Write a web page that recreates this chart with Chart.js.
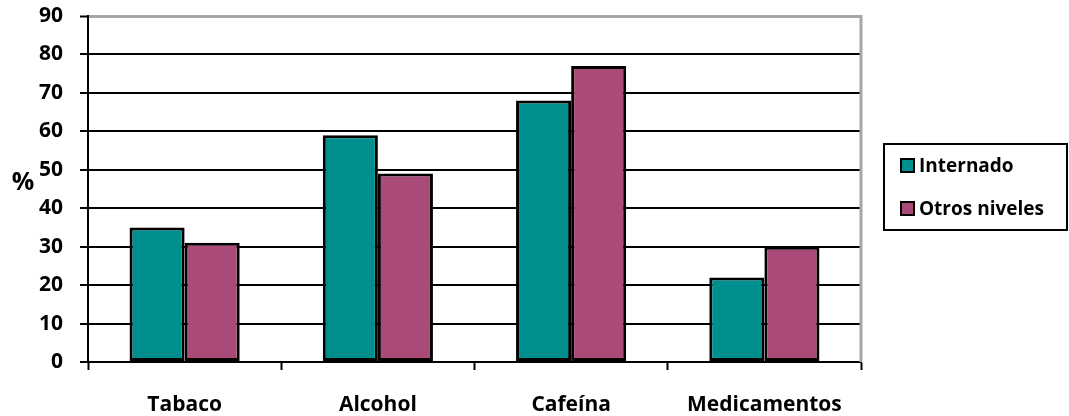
<!DOCTYPE html>
<html lang="es">
<head>
    <meta charset="UTF-8">
    <title>Consumo por nivel</title>
    <script src="https://cdn.jsdelivr.net/npm/chart.js"></script>
    <style>
        body { margin: 0; background: #ffffff; }
        #wrap { width: 1069px; height: 416px; position: relative; }
    </style>
</head>
<body>
<div id="wrap"><canvas id="grafico"></canvas></div>
<script>
    // datos
    const categorias = ["Tabaco", "Alcohol", "Cafeína", "Medicamentos"];
    const internado = [35, 59, 68, 22];
    const otrosNiveles = [31, 49, 77, 30];
    const nombresSeries = ["Internado", "Otros niveles"];
    const marcasY = [0, 10, 20, 30, 40, 50, 60, 70, 80, 90];

    const FUENTE = "'Open Sans', 'DejaVu Sans', sans-serif";
    const colores = ["#008F8F", "#A94A78"];

    // leyenda con recuadro y el "%" del eje
    const extras = {
        id: 'extras',
        afterDraw(chart) {
            const ctx = chart.ctx;
            const area = chart.chartArea;
            ctx.save();
            // borde derecho gris
            ctx.strokeStyle = '#a6a6a6';
            ctx.lineWidth = 3;
            ctx.beginPath();
            ctx.moveTo(area.right, area.top - 1);
            ctx.lineTo(area.right, area.bottom);
            ctx.stroke();

            // "%"
            ctx.fillStyle = '#000';
            ctx.font = "bold 25px " + FUENTE;
            ctx.textAlign = 'center';
            ctx.textBaseline = 'middle';
            ctx.fillText('%', 23, 183);

            // leyenda
            ctx.strokeStyle = '#000';
            ctx.lineWidth = 2;
            ctx.strokeRect(884, 144, 183, 86);
            ctx.font = "bold 19px " + FUENTE;
            ctx.textAlign = 'left';
            chart.data.datasets.forEach((ds, i) => {
                const cy = 166 + i * 43;
                ctx.fillStyle = ds.backgroundColor;
                ctx.fillRect(901, cy - 7, 13, 13);
                ctx.strokeRect(901, cy - 7, 13, 13);
                ctx.fillStyle = '#000';
                ctx.fillText(ds.label, 919, cy + 1);
            });
            ctx.restore();
        }
    };

    new Chart(document.getElementById('grafico'), {
        type: 'bar',
        data: {
            labels: categorias,
            datasets: [
                { label: nombresSeries[0], data: internado, backgroundColor: colores[0] },
                { label: nombresSeries[1], data: otrosNiveles, backgroundColor: colores[1] }
            ]
        },
        options: {
            responsive: true,
            maintainAspectRatio: false,
            animation: false,
            devicePixelRatio: 1,
            layout: { padding: { left: 0, right: 208, top: 16, bottom: 0 } },
            datasets: {
                bar: {
                    categoryPercentage: 0.57,
                    barPercentage: 1,
                    borderColor: '#000',
                    borderWidth: 3,
                    borderSkipped: false
                }
            },
            plugins: {
                legend: { display: false },
                tooltip: { enabled: false }
            },
            scales: {
                x: {
                    offset: true,
                    grid: {
                        offset: true,
                        drawOnChartArea: false,
                        drawTicks: true,
                        tickLength: 8,
                        tickWidth: 2,
                        tickColor: '#000'
                    },
                    border: { color: '#000', width: 2 },
                    ticks: {
                        color: '#000',
                        padding: 22,
                        maxRotation: 0,
                        font: { family: FUENTE, size: 21, weight: 'bold' }
                    },
                    afterFit(scale) {
                        scale.height = 54;
                        scale.paddingLeft = 0;
                        scale.paddingRight = 0;
                    }
                },
                y: {
                    min: 0,
                    max: 90,
                    afterBuildTicks(scale) {
                        scale.ticks = marcasY.map(v => ({ value: v }));
                    },
                    grid: {
                        color: ctx => (ctx.tick && ctx.tick.value === 90) ? '#a6a6a6' : '#000',
                        lineWidth: ctx => (ctx.tick && ctx.tick.value === 90) ? 3 : 2,
                        tickColor: '#000',
                        tickLength: 8,
                        tickWidth: 2
                    },
                    border: { color: '#000', width: 2 },
                    ticks: {
                        color: '#000',
                        padding: 17,
                        font: { family: FUENTE, size: 21, weight: 'bold' }
                    },
                    afterFit(scale) {
                        scale.width = 88;
                        scale.paddingTop = 0;
                        scale.paddingBottom = 0;
                    }
                }
            }
        },
        plugins: [extras]
    });
</script>
</body>
</html>
